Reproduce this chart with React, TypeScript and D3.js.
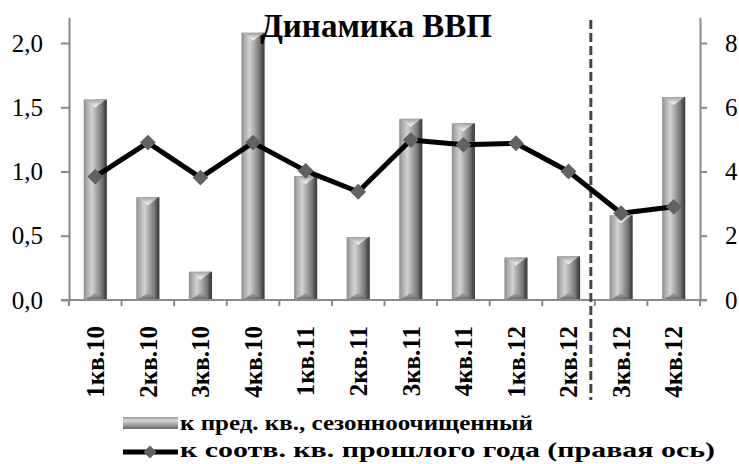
import { useEffect, useRef } from 'react';
import * as d3 from 'd3';

const categories = ['1кв.10', '2кв.10', '3кв.10', '4кв.10', '1кв.11', '2кв.11', '3кв.11', '4кв.11', '1кв.12', '2кв.12', '3кв.12', '4кв.12'];
const qoqValues = [1.56, 0.8, 0.22, 2.08, 0.965, 0.49, 1.41, 1.375, 0.33, 0.34, 0.66, 1.58];
const yoyValues = [3.84, 4.9, 3.81, 4.9, 4.02, 3.37, 4.98, 4.83, 4.88, 4.0, 2.7, 2.9];
const leftTicks = [0, 0.5, 1, 1.5, 2];
const rightTicks = [0, 2, 4, 6, 8];
const dividerAfter = '2кв.12';
const title = 'Динамика ВВП';
const legendLabels = ['к пред. кв., сезонноочищенный', 'к соотв. кв. прошлого года (правая ось)'];

export default function App() {
  const svgRef = useRef<SVGSVGElement>(null);

  useEffect(() => {
    const width = 739;
    const height = 464;
    const margin = { top: 17.3, right: 39, bottom: 164, left: 69 };
    const font = "'Times New Roman', Times, 'Liberation Serif', 'DejaVu Serif', 'Noto Serif', serif";
    const axisColor = '#8a8a8a';

    const x = d3
      .scaleBand()
      .domain(categories)
      .range([margin.left, width - margin.right])
      .padding(0);

    const yLeft = d3
      .scaleLinear()
      .domain([0, 2.2])
      .range([height - margin.bottom, margin.top]);

    const yRight = d3
      .scaleLinear()
      .domain([0, 8.8])
      .range([height - margin.bottom, margin.top]);

    const svg = d3.select(svgRef.current);
    svg.selectAll('*').remove();

    const defs = svg.append('defs');
    const barGrad = defs.append('linearGradient').attr('id', 'barGrad').attr('x1', 0).attr('x2', 1).attr('y1', 0).attr('y2', 0);
    [
      [0, '#8c8c8c'],
      [0.12, '#a8a8a8'],
      [0.35, '#d2d2d2'],
      [0.55, '#a9a9a9'],
      [0.8, '#737373'],
      [0.9, '#4e4e4e'],
      [1, '#3a3a3a'],
    ].forEach(([o, c]) => barGrad.append('stop').attr('offset', o as number).attr('stop-color', c as string));

    const capGrad = defs.append('linearGradient').attr('id', 'capGrad').attr('x1', 0).attr('x2', 0).attr('y1', 0).attr('y2', 1);
    capGrad.append('stop').attr('offset', 0).attr('stop-color', '#a0a0a0');
    capGrad.append('stop').attr('offset', 1).attr('stop-color', '#ffffff');

    const baseGrad = defs.append('linearGradient').attr('id', 'baseGrad').attr('x1', 0).attr('x2', 0).attr('y1', 0).attr('y2', 1);
    baseGrad.append('stop').attr('offset', 0).attr('stop-color', '#9a9a9a');
    baseGrad.append('stop').attr('offset', 1).attr('stop-color', '#5a5a5a');

    const legGrad = defs.append('linearGradient').attr('id', 'legGrad').attr('x1', 0).attr('x2', 0).attr('y1', 0).attr('y2', 1);
    [
      [0, '#9a9a9a'],
      [0.3, '#d8d8d8'],
      [0.6, '#a8a8a8'],
      [1, '#6a6a6a'],
    ].forEach(([o, c]) => legGrad.append('stop').attr('offset', o as number).attr('stop-color', c as string));

    const bw = x.bandwidth() * 0.44;
    const bx = (d: string) => x(d)! + x.bandwidth() / 2 - bw / 2;
    const capH = 8;

    // Bars
    const bars = svg
      .append('g')
      .selectAll('g')
      .data(categories.map((c, i) => ({ c, v: qoqValues[i] })))
      .enter()
      .append('g');

    bars
      .append('rect')
      .attr('x', d => bx(d.c))
      .attr('y', d => yLeft(d.v))
      .attr('width', bw)
      .attr('height', d => yLeft(0) - yLeft(d.v))
      .attr('fill', 'url(#barGrad)');

    bars
      .append('path')
      .attr('d', d => {
        const x0 = bx(d.c);
        const y0 = yLeft(d.v);
        return `M${x0 + 1},${y0}L${x0 + bw - 1},${y0}L${x0 + bw / 2},${y0 + capH}Z`;
      })
      .attr('fill', 'url(#capGrad)');

    bars
      .append('path')
      .attr('d', d => {
        const x0 = bx(d.c);
        const y0 = yLeft(0);
        return `M${x0 + 1},${y0}L${x0 + bw - 1},${y0}L${x0 + bw / 2},${y0 - 7}Z`;
      })
      .attr('fill', 'url(#baseGrad)')
      .attr('opacity', 0.8);

    // Axes
    const axisG = svg.append('g');
    axisG
      .append('line')
      .attr('x1', margin.left - 8)
      .attr('x2', width - margin.right + 7)
      .attr('y1', yLeft(0))
      .attr('y2', yLeft(0))
      .attr('stroke', axisColor)
      .attr('stroke-width', 2);

    const boundaries = categories.map(c => x(c)!).concat([x.range()[1]]);
    axisG
      .selectAll('line.xt')
      .data(boundaries)
      .enter()
      .append('line')
      .attr('x1', d => d)
      .attr('x2', d => d)
      .attr('y1', yLeft(0))
      .attr('y2', yLeft(0) + 6)
      .attr('stroke', axisColor)
      .attr('stroke-width', 2);

    const left = svg
      .append('g')
      .attr('transform', `translate(${margin.left},0)`)
      .call(
        d3
          .axisLeft(yLeft)
          .tickValues(leftTicks)
          .tickSize(8)
          .tickSizeOuter(0)
          .tickPadding(18)
          .tickFormat(d => d3.format('.1f')(d as number).replace('.', ','))
      );

    const right = svg
      .append('g')
      .attr('transform', `translate(${width - margin.right},0)`)
      .call(d3.axisRight(yRight).tickValues(rightTicks).tickSize(7).tickSizeOuter(0).tickPadding(18));

    [left, right].forEach(g => {
      g.attr('font-family', font).attr('font-size', 25);
      g.selectAll('path, line').attr('stroke', axisColor).attr('stroke-width', 2);
      g.selectAll('text').attr('fill', '#000');
    });

    // Category labels
    svg
      .append('g')
      .attr('font-family', font)
      .attr('font-size', 25)
      .attr('font-weight', 'bold')
      .selectAll('text')
      .data(categories)
      .enter()
      .append('text')
      .attr('transform', d => `translate(${x(d)! + x.bandwidth() / 2},${yLeft(0) + 26}) rotate(-90)`)
      .attr('text-anchor', 'end')
      .attr('dy', '0.35em')
      .text(d => d);

    // Divider
    svg
      .append('line')
      .attr('x1', x(dividerAfter)! + x.bandwidth() - 4)
      .attr('x2', x(dividerAfter)! + x.bandwidth() - 4)
      .attr('y1', 20)
      .attr('y2', 400)
      .attr('stroke', '#454545')
      .attr('stroke-width', 3)
      .attr('stroke-dasharray', '9,4');

    // Line
    const line = d3
      .line<number>()
      .x((_, i) => x(categories[i])! + x.bandwidth() / 2)
      .y(d => yRight(d));

    svg
      .append('path')
      .datum(yoyValues)
      .attr('d', line)
      .attr('fill', 'none')
      .attr('stroke', '#000')
      .attr('stroke-width', 5)
      .attr('stroke-linejoin', 'round');

    const diamond = d3.symbol().type(d3.symbolDiamond2).size(160);
    svg
      .append('g')
      .selectAll('path')
      .data(yoyValues)
      .enter()
      .append('path')
      .attr('transform', (d, i) => `translate(${x(categories[i])! + x.bandwidth() / 2},${yRight(d)})`)
      .attr('d', diamond)
      .attr('fill', '#626262');

    // Title
    svg
      .append('text')
      .attr('x', 376)
      .attr('y', 37)
      .attr('text-anchor', 'middle')
      .attr('font-family', font)
      .attr('font-size', 33)
      .attr('font-weight', 'bold')
      .text(title);

    // Legend
    const leg = svg.append('g');
    leg.append('rect').attr('x', 123).attr('y', 417).attr('width', 55).attr('height', 12).attr('fill', 'url(#legGrad)');
    leg
      .append('line')
      .attr('x1', 123)
      .attr('x2', 178)
      .attr('y1', 452)
      .attr('y2', 452)
      .attr('stroke', '#000')
      .attr('stroke-width', 5);
    leg
      .append('path')
      .attr('transform', 'translate(150,452)')
      .attr('d', d3.symbol().type(d3.symbolDiamond2).size(110)())
      .attr('fill', '#626262');

    const legLengths = [353, 535];
    legendLabels.forEach((t, i) => {
      leg
        .append('text')
        .attr('x', 180)
        .attr('y', 430 + i * 27)
        .attr('textLength', legLengths[i])
        .attr('lengthAdjust', 'spacingAndGlyphs')
        .attr('font-family', font)
        .attr('font-size', 22)
        .attr('font-weight', 'bold')
        .text(t);
    });
  }, []);

  return (
    <svg
      ref={svgRef}
      width={739}
      height={464}
      style={{ position: 'absolute', left: 0, top: 0, background: '#fff' }}
    ></svg>
  );
}
